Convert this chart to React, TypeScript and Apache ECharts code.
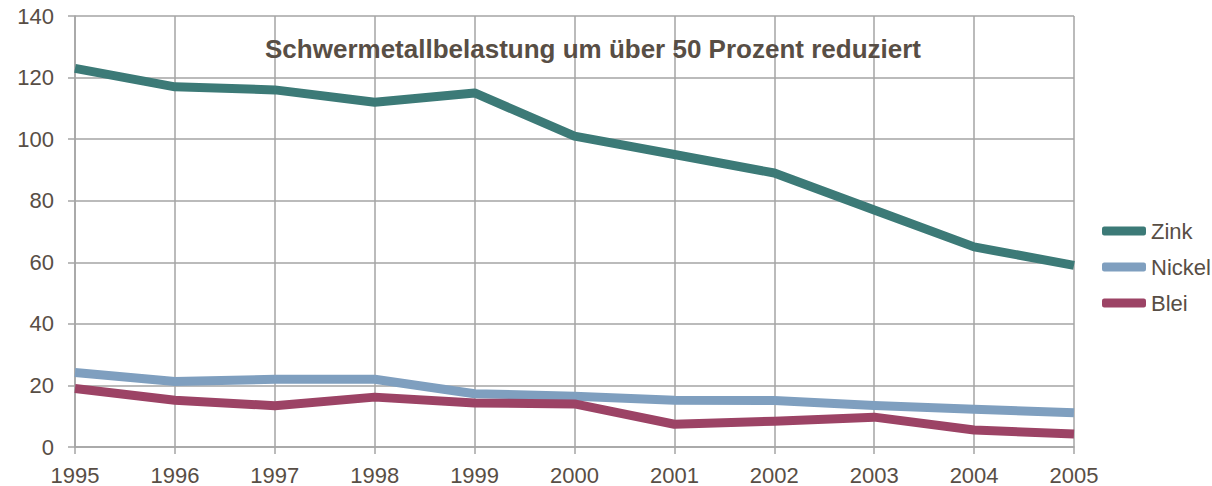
import React, { useEffect, useRef } from "react";
import * as echarts from "echarts";

const years = ["1995", "1996", "1997", "1998", "1999", "2000", "2001", "2002", "2003", "2004", "2005"];
const zink = [123, 117, 116, 112, 115, 101, 95, 89, 77, 65, 59];
const nickel = [24.2, 21.3, 22, 22, 17.3, 16.5, 15.2, 15.1, 13.5, 12.3, 11.1];
const blei = [19, 15.2, 13.4, 16.2, 14.3, 14, 7.4, 8.4, 9.7, 5.5, 4.2];
const title = "Schwermetallbelastung um über 50 Prozent reduziert";

const textColor = "#584e45";
const gridColor = "#a5a5a5";
const font = "Liberation Sans, Arial, sans-serif";

export default function App() {
  const ref = useRef<HTMLDivElement>(null);
  useEffect(() => {
    const chart = echarts.init(ref.current!, null, { renderer: "svg" });
    const mk = (name: string, data: number[], color: string) => ({
      name,
      type: "line",
      data,
      symbol: "none",
      lineStyle: { width: 9, color, cap: "butt", join: "round" },
      itemStyle: { color },
    });
    chart.setOption({
      animation: false,
      textStyle: { fontFamily: font },
      title: {
        text: title,
        left: 588,
        top: 31,
        textAlign: "center",
        textStyle: { fontSize: 26, fontWeight: "bold", color: textColor, fontFamily: font },
      },
      grid: { left: 75, top: 16, width: 999, height: 431, containLabel: false },
      legend: {
        orient: "vertical",
        left: 1097,
        top: 215,
        itemGap: 14,
        itemWidth: 44,
        itemHeight: 9,
        itemTextGap: 6,
        icon: "roundRect",
        textStyle: { fontSize: 22, color: textColor, fontFamily: font },
        data: ["Zink", "Nickel", "Blei"],
      },
      xAxis: {
        type: "category",
        data: years,
        boundaryGap: false,
        axisLine: { show: true, lineStyle: { color: gridColor, width: 1.5 } },
        axisTick: { show: true, length: 7, lineStyle: { color: gridColor, width: 1.5 } },
        splitLine: { show: true, lineStyle: { color: gridColor, width: 1.5 } },
        axisLabel: { fontSize: 22, lineHeight: 18, color: textColor, margin: 19, fontFamily: font },
      },
      yAxis: {
        type: "value",
        min: 0,
        max: 140,
        interval: 20,
        axisLine: { show: true, lineStyle: { color: gridColor, width: 1.5 } },
        axisTick: { show: true, length: 7, lineStyle: { color: gridColor, width: 1.5 } },
        splitLine: { show: true, lineStyle: { color: gridColor, width: 1.5 } },
        axisLabel: { fontSize: 22, lineHeight: 18, color: textColor, margin: 21, fontFamily: font },
      },
      series: [
        mk("Zink", zink, "#3c7a77"),
        mk("Nickel", nickel, "#7f9fbf"),
        mk("Blei", blei, "#9c4365"),
      ],
    });
    return () => chart.dispose();
  }, []);
  return <div ref={ref} style={{ width: 1212, height: 486, position: "absolute", left: 0, top: 0 }} />;
}
